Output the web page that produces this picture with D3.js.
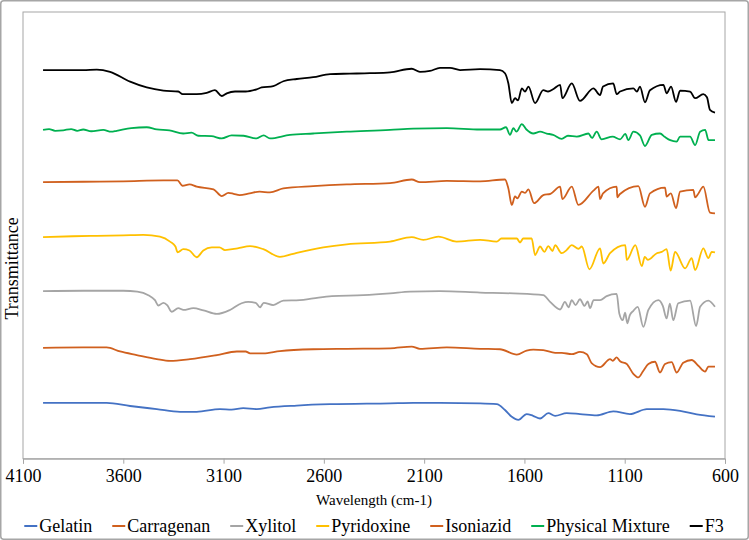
<!DOCTYPE html>
<html>
<head>
<meta charset="utf-8">
<title>FTIR spectra</title>
<script src="https://cdn.jsdelivr.net/npm/d3@7"></script>
<style>
  body { margin: 0; background: #fff; }
  svg { display: block; font-family: "Liberation Serif", "Times New Roman", serif; }
</style>
</head>
<body>
<script>
// spectra: [wavenumber, transmittance (stacked, arbitrary units)]
var xTicks = [4100, 3600, 3100, 2600, 2100, 1600, 1100, 600];

var gelatin = [[4000,12.5],[3800,12.5],[3683,12.5],[3566,11.8],[3433,11.1],[3317,10.5],[3234,10.5],[3118,11.1],[3060,11.0],[3002,11.3],[2935,11.1],[2869,11.5],[2735,11.9],[2569,12.2],[2270,12.4],[2154,12.5],[2021,12.5],[1821,12.4],[1738,12.2],[1697,10.9],[1663,9.4],[1630,8.7],[1589,10.0],[1557,9.6],[1522,9.0],[1481,10.2],[1447,9.6],[1389,10.2],[1323,10.0],[1240,9.7],[1157,10.6],[1074,10.0],[990,11.1],[907,11.1],[824,10.7],[741,9.9],[650,9.4]];

var carragenan = [[4000,24.8],[3800,24.9],[3683,24.9],[3616,24.0],[3533,23.2],[3433,22.3],[3367,21.9],[3267,22.3],[3134,23.2],[3034,24.0],[2990,24.0],[2968,23.6],[2902,23.6],[2819,24.1],[2653,24.5],[2486,24.6],[2270,24.7],[2162,25.1],[2121,24.6],[1987,24.9],[1821,24.6],[1722,24.5],[1638,23.3],[1589,24.2],[1556,24.4],[1506,24.3],[1447,23.7],[1414,23.7],[1364,23.4],[1323,23.9],[1289,23.4],[1265,21.4],[1223,20.5],[1173,22.3],[1160,21.9],[1140,22.7],[1123,21.8],[1090,21.2],[1057,19.0],[1032,18.2],[1007,19.7],[982,21.2],[949,21.7],[924,19.3],[899,21.2],[866,21.6],[841,19.3],[808,21.5],[766,22.1],[733,20.8],[699,19.5],[683,20.6],[650,20.6]];

var xylitol = [[4000,37.5],[3800,37.6],[3600,37.6],[3530,37.4],[3475,36.6],[3442,35.5],[3425,34.3],[3400,34.9],[3380,34.3],[3359,32.9],[3326,33.7],[3300,33.3],[3251,33.7],[3200,33.2],[3134,32.4],[3068,33.3],[3010,34.8],[2977,35.1],[2940,34.9],[2918,33.9],[2900,34.9],[2852,34.4],[2802,35.4],[2720,35.5],[2653,35.9],[2560,36.4],[2403,36.6],[2270,37.0],[2170,37.4],[2021,37.5],[1821,37.2],[1655,37.0],[1506,36.6],[1472,35.1],[1422,33.4],[1398,35.1],[1380,33.9],[1364,35.5],[1345,34.4],[1323,35.7],[1300,34.2],[1285,35.2],[1273,33.7],[1255,35.5],[1223,35.5],[1190,36.4],[1140,36.9],[1127,32.5],[1110,31.0],[1098,32.7],[1087,30.3],[1075,32.1],[1057,33.1],[1035,34.0],[1007,29.5],[982,33.3],[932,35.5],[910,34.2],[891,31.4],[875,34.7],[858,31.0],[833,34.8],[774,35.4],[744,29.7],[724,34.0],[683,35.4],[650,34.0]];

var pyridoxine = [[4000,49.6],[3850,49.8],[3732,49.9],[3600,50.0],[3500,50.1],[3417,49.7],[3367,48.6],[3340,47.5],[3329,46.2],[3301,46.9],[3270,46.6],[3234,45.1],[3201,46.6],[3159,47.3],[3120,47.3],[3093,46.7],[3030,47.1],[2968,47.6],[2902,46.9],[2819,45.2],[2735,46.1],[2603,47.3],[2486,48.0],[2270,48.6],[2162,49.6],[2104,49.0],[2029,49.7],[1938,48.6],[1821,49.0],[1738,48.6],[1715,49.3],[1638,49.3],[1622,48.4],[1606,49.3],[1564,49.3],[1547,45.6],[1522,47.5],[1500,46.3],[1481,47.6],[1460,46.5],[1447,47.8],[1414,46.0],[1390,46.7],[1364,47.8],[1330,47.0],[1314,47.5],[1276,42.4],[1223,47.1],[1207,43.7],[1173,46.0],[1097,47.8],[1090,44.5],[1047,47.8],[1015,43.1],[1000,45.2],[985,44.5],[940,46.0],[915,46.3],[891,46.9],[871,42.1],[849,46.3],[799,42.6],[766,44.9],[749,42.2],[708,47.1],[683,44.9],[666,46.3],[650,46.2]];

var isoniazid = [[4000,61.9],[3800,62.0],[3600,62.1],[3400,62.3],[3330,62.3],[3305,61.1],[3270,61.4],[3234,60.9],[3150,60.3],[3109,58.8],[3076,59.5],[3050,59.3],[3020,59.0],[2970,59.4],[2920,59.8],[2869,59.6],[2802,60.5],[2653,61.0],[2486,61.4],[2270,61.7],[2162,62.5],[2121,61.9],[1987,62.2],[1821,62.1],[1697,62.5],[1680,60.5],[1663,56.8],[1647,58.7],[1635,58.3],[1613,59.8],[1597,59.5],[1580,60.3],[1552,57.2],[1506,59.0],[1470,59.3],[1422,60.9],[1411,58.1],[1364,60.9],[1331,56.8],[1256,60.0],[1231,60.9],[1223,58.1],[1208,59.4],[1140,60.9],[1137,58.5],[1125,59.2],[1032,61.0],[999,56.4],[974,59.4],[899,60.7],[891,58.7],[870,59.4],[844,56.1],[824,59.8],[758,60.2],[749,58.5],[735,59.2],[708,60.9],[675,55.1],[650,54.9]];

var physicalMixture = [[4000,73.6],[3970,73.8],[3940,73.4],[3900,73.5],[3860,73.8],[3830,73.4],[3800,73.7],[3760,73.3],[3700,73.6],[3660,73.2],[3633,73.4],[3560,74.0],[3483,74.2],[3433,73.7],[3370,73.5],[3301,72.8],[3260,73.0],[3226,72.3],[3160,72.2],[3109,71.7],[3060,72.4],[3000,72.3],[2935,71.7],[2900,72.4],[2869,71.7],[2769,72.5],[2653,72.8],[2486,73.2],[2270,73.6],[2154,73.9],[1987,74.0],[1821,73.7],[1722,73.7],[1692,74.2],[1672,72.5],[1655,74.0],[1640,73.2],[1613,74.9],[1590,73.7],[1556,72.8],[1522,73.2],[1489,72.8],[1457,72.5],[1414,71.6],[1383,72.3],[1339,72.1],[1281,72.8],[1263,71.8],[1240,73.2],[1215,71.5],[1160,72.1],[1123,71.5],[1097,72.7],[1082,71.3],[1057,73.2],[1024,72.4],[999,70.0],[965,72.5],[924,72.8],[899,72.0],[873,71.3],[841,71.0],[824,72.1],[774,72.1],[749,70.2],[724,73.2],[699,73.6],[682,71.3],[650,71.3]];

var f3 = [[4000,87.0],[3900,87.0],[3800,87.0],[3732,87.1],[3666,86.6],[3566,84.4],[3483,83.1],[3400,82.4],[3326,82.2],[3304,81.6],[3234,81.6],[3184,81.9],[3143,82.5],[3109,81.2],[3084,81.8],[3043,82.2],[2990,82.2],[2935,82.7],[2910,83.1],[2852,83.4],[2802,84.5],[2735,85.0],[2653,85.4],[2569,86.1],[2470,86.2],[2370,86.3],[2270,86.5],[2162,87.3],[2121,86.6],[2071,86.8],[2021,87.5],[1971,87.5],[1921,87.0],[1821,87.2],[1722,87.0],[1697,86.3],[1680,84.0],[1663,79.6],[1647,80.7],[1632,80.2],[1613,82.9],[1597,82.2],[1580,83.3],[1547,79.6],[1506,82.5],[1482,82.2],[1457,82.7],[1422,83.7],[1411,80.7],[1364,84.0],[1323,80.1],[1256,82.9],[1223,81.4],[1208,83.3],[1157,84.0],[1140,81.6],[1123,82.2],[1057,82.9],[1039,82.2],[1024,83.3],[999,79.8],[974,82.5],[907,83.7],[891,81.8],[869,83.3],[844,79.9],[824,82.4],[774,82.2],[749,80.7],[708,81.6],[690,80.9],[675,78.1],[650,77.5]];

var seriesNames = ["Gelatin", "Carragenan", "Xylitol", "Pyridoxine", "Isoniazid", "Physical Mixture", "F3"];
var seriesData = [gelatin, carragenan, xylitol, pyridoxine, isoniazid, physicalMixture, f3];
var colors = ["#4472C4", "#D0601E", "#A5A5A5", "#FFC000", "#D0601E", "#00B050", "#000000"];

var W = 749, H = 540;
var plot = { left: 23, right: 725, top: 12, bottom: 458.7 };

var svg = d3.select("body").append("svg")
  .attr("width", W)
  .attr("height", H);

// outer chart border
svg.append("rect")
  .attr("x", 0.75).attr("y", 0.75)
  .attr("width", W - 1.5).attr("height", H - 1.5)
  .attr("rx", 3)
  .attr("fill", "#fff")
  .attr("stroke", "#a6a6a6")
  .attr("stroke-width", 1.5);

var x = d3.scaleLinear().domain([4100, 600]).range([plot.left, plot.right]);
var y = d3.scaleLinear().domain([0, 100]).range([plot.bottom, plot.top]);

// plot frame
svg.append("rect")
  .attr("x", plot.left).attr("y", plot.top)
  .attr("width", plot.right - plot.left)
  .attr("height", plot.bottom - plot.top)
  .attr("fill", "none")
  .attr("stroke", "#a6a6a6")
  .attr("stroke-width", 1);

var xAxis = svg.append("g")
  .attr("transform", "translate(0," + plot.bottom + ")")
  .call(d3.axisBottom(x).tickValues(xTicks).tickSize(5).tickPadding(6).tickFormat(d3.format("d")));
xAxis.select(".domain").attr("stroke", "#a6a6a6");
xAxis.selectAll(".tick line").attr("stroke", "#a6a6a6");
xAxis.selectAll(".tick text")
  .attr("font-family", "Liberation Serif, Times New Roman, serif")
  .attr("font-size", 18)
  .attr("fill", "#000");

svg.append("text")
  .attr("x", (plot.left + plot.right) / 2)
  .attr("y", 505)
  .attr("text-anchor", "middle")
  .attr("font-size", 15)
  .text("Wavelength (cm-1)");

svg.append("text")
  .attr("transform", "translate(18," + ((plot.top + plot.bottom) / 2 + 33) + ") rotate(-90)")
  .attr("text-anchor", "middle")
  .attr("font-size", 18)
  .text("Transmittance");

var line = d3.line()
  .curve(d3.curveMonotoneX)
  .x(function(d) { return x(d[0]); })
  .y(function(d) { return y(d[1]); });

svg.append("g").selectAll("path")
  .data(seriesData)
  .enter().append("path")
    .attr("d", line)
    .attr("fill", "none")
    .attr("stroke", function(d, i) { return colors[i]; })
    .attr("stroke-width", 1.8)
    .attr("stroke-linejoin", "round");

// legend, centred under the plot
var legend = svg.append("g");
var items = legend.selectAll("g")
  .data(seriesNames)
  .enter().append("g");
items.append("line")
  .attr("x1", 0).attr("x2", 13)
  .attr("y1", 0).attr("y2", 0)
  .attr("stroke", function(d, i) { return colors[i]; })
  .attr("stroke-width", 2);
items.append("text")
  .attr("x", 15)
  .attr("y", 6)
  .attr("font-size", 18)
  .text(function(d) { return d; });

var pos = 0;
items.each(function() {
  var w = this.getBBox().width;
  d3.select(this).attr("transform", "translate(" + pos + ",0)");
  pos += w + 20;
});
var total = pos - 20;
legend.attr("transform", "translate(" + ((plot.left + plot.right) / 2 - total / 2) + ",526)");
</script>
</body>
</html>
